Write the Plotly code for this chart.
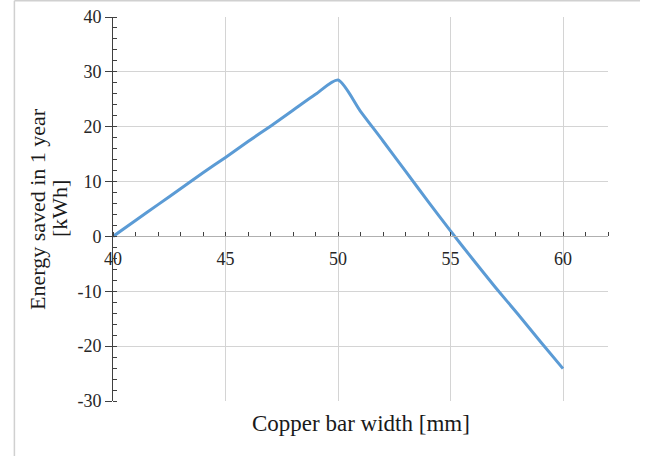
import plotly.graph_objects as go

width_mm = [40, 41, 42, 43, 44, 45, 46, 47, 48, 49, 50, 51, 52, 53, 54, 55, 56, 57, 58, 59, 60]
energy_kwh = [0, 2.9, 5.8, 8.7, 11.6, 14.4, 17.3, 20.1, 23.0, 25.9, 28.5,
              22.8, 17.4, 11.9, 6.4, 1.0, -4.2, -9.3, -14.2, -19.2, -24.1]

x_ticks = [40, 45, 50, 55, 60]
y_ticks = [-30, -20, -10, 0, 10, 20, 30, 40]
y_ticktext = ["-30", "-20", "-10", "0", "10", "20", "30", "40"]

x_title = "Copper bar width [mm]"
y_title_lines = ["Energy saved in 1 year", "[kWh]"]

FONT = "Liberation Serif"

fig = go.Figure()
fig.add_trace(go.Scatter(
    x=width_mm, y=energy_kwh, mode="lines",
    line=dict(color="#5b9bd5", width=3, shape="spline", smoothing=0.7),
    showlegend=False, hoverinfo="skip",
))

fig.update_layout(
    width=652, height=456,
    margin=dict(l=113, r=44, t=17, b=55, autoexpand=False),
    paper_bgcolor="white", plot_bgcolor="white",
    font=dict(family=FONT, color="#262626"),
    xaxis=dict(
        range=[40, 62], tickvals=x_ticks, automargin=False,
        showgrid=True, gridcolor="#d4d4d4", gridwidth=1,
        showline=True, linecolor="#b0b0b0", linewidth=1,
        ticks="", zeroline=False,
        anchor="free", position=30 / 70,
        tickfont=dict(family=FONT, size=18, color="#262626"),
        ticklabelstandoff=6,
        minor=dict(dtick=1, tick0=40, ticks="inside", ticklen=4,
                   tickcolor="#404040", showgrid=False),
    ),
    yaxis=dict(
        range=[-30, 40], tickvals=y_ticks, ticktext=y_ticktext, automargin=False,
        showgrid=True, gridcolor="#d4d4d4", gridwidth=1,
        showline=True, linecolor="#404040", linewidth=1,
        ticks="outside", ticklen=7, tickcolor="#404040",
        zeroline=False,
        tickfont=dict(family=FONT, size=18, color="#262626"),
        minor=dict(dtick=2, tick0=0, ticks="inside", ticklen=4,
                   tickcolor="#404040", showgrid=False),
    ),
    annotations=[
        dict(text=x_title, xref="paper", yref="paper", x=0.5, y=-0.022,
             xanchor="center", yanchor="top", showarrow=False,
             font=dict(family=FONT, size=23, color="#1a1a1a")),
        dict(text=y_title_lines[0], xref="paper", yref="paper",
             x=(37 - 113) / 495, y=0.5, xanchor="center", yanchor="middle",
             textangle=-90, showarrow=False,
             font=dict(family=FONT, size=22, color="#1a1a1a")),
        dict(text=y_title_lines[1], xref="paper", yref="paper",
             x=(59 - 113) / 495, y=0.5, xanchor="center", yanchor="middle",
             textangle=-90, showarrow=False,
             font=dict(family=FONT, size=22, color="#1a1a1a")),
    ],
    shapes=[
        dict(type="line", xref="paper", yref="paper",
             x0=-0.1992, x1=-0.1992, y0=-0.2, y1=1.042,
             line=dict(color="#d0d0d0", width=1.5)),
        dict(type="line", xref="paper", yref="paper",
             x0=-0.1992, x1=1.0647, y0=1.042, y1=1.042,
             line=dict(color="#d0d0d0", width=1.5)),
    ],
)

fig.write_html("out.html")
